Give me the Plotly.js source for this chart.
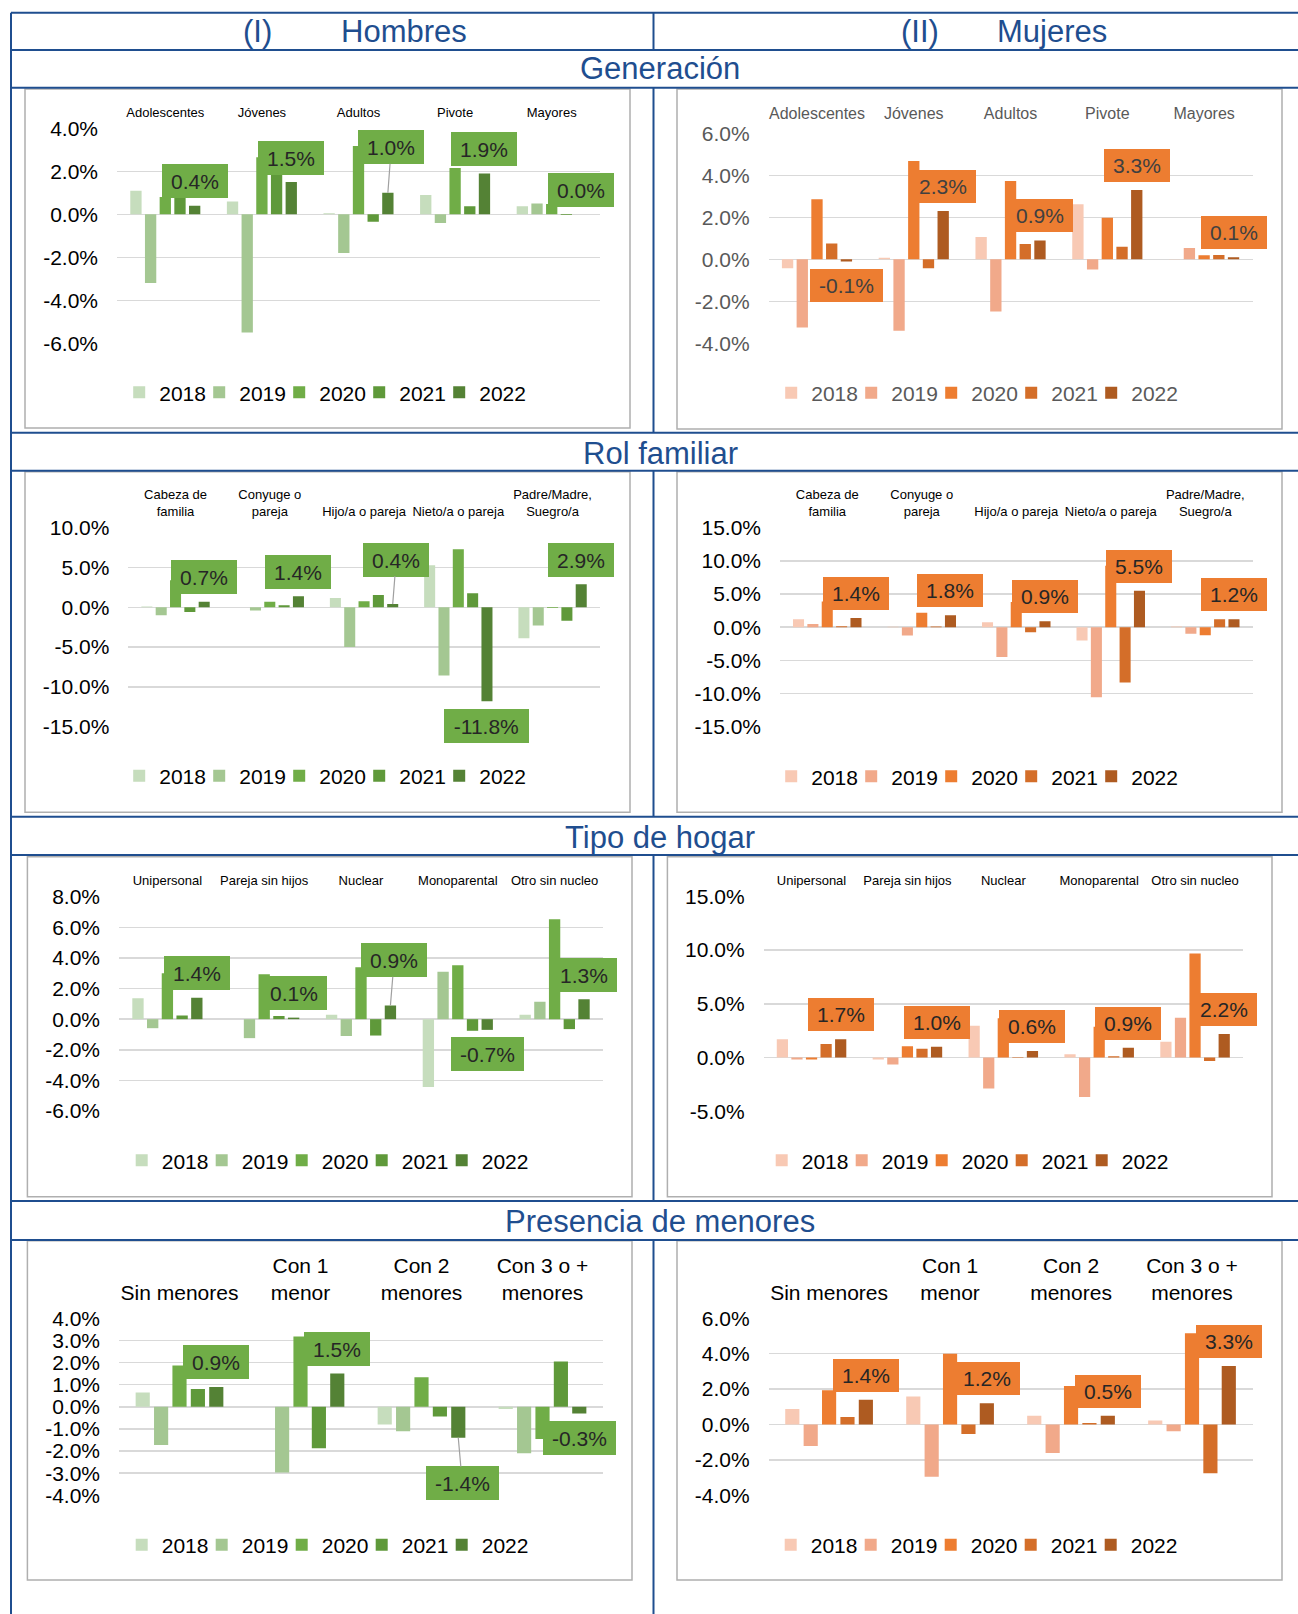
<!DOCTYPE html>
<html><head><meta charset="utf-8">
<script src="https://cdn.plot.ly/plotly-3.0.1.min.js"></script>
<style>html,body{margin:0;padding:0;background:#fff;}#chart{width:1298px;height:1614px;}</style>
</head><body><div id="chart"></div>
<script>
// ---------------- DATA (values in %) ----------------
const years = ['2018', '2019', '2020', '2021', '2022'];

const genCats = ['Adolescentes', 'Jóvenes', 'Adultos', 'Pivote', 'Mayores'];
const rolCats = ['Cabeza de familia', 'Conyuge o pareja', 'Hijo/a o pareja', 'Nieto/a o pareja', 'Padre/Madre, Suegro/a'];
const rolTicks = ['Cabeza de<br>familia', 'Conyuge o<br>pareja', 'Hijo/a o pareja', 'Nieto/a o pareja', 'Padre/Madre,<br>Suegro/a'];
const tipoCats = ['Unipersonal', 'Pareja sin hijos', 'Nuclear', 'Monoparental', 'Otro sin nucleo'];
const menCats = ['Sin menores', 'Con 1 menor', 'Con 2 menores', 'Con 3 o + menores'];
const menTicks = ['Sin menores', 'Con 1<br>menor', 'Con 2<br>menores', 'Con 3 o +<br>menores'];

// rows: 2018, 2019, 2020, 2021, 2022
const genHombres = [
  [1.1, 0.6, 0.05, 0.9, 0.37],
  [-3.2, -5.5, -1.8, -0.4, 0.5],
  [0.8, 2.65, 3.18, 2.15, 0.48],
  [0.8, 2.0, -0.35, 0.37, -0.03],
  [0.4, 1.5, 1.0, 1.9, 0.0]
];
const genMujeres = [
  [-0.43, 0.07, 1.06, 2.62, 0.02],
  [-3.25, -3.4, -2.49, -0.49, 0.54],
  [2.86, 4.68, 3.73, 1.98, 0.19],
  [0.75, -0.43, 0.73, 0.6, 0.2],
  [-0.1, 2.3, 0.9, 3.3, 0.1]
];
const rolHombres = [
  [0.1, 0.0, 1.17, 5.27, -3.9],
  [-1.0, -0.4, -5.0, -8.58, -2.3],
  [3.4, 0.7, 0.75, 7.28, -0.1],
  [-0.6, 0.25, 1.55, 1.76, -1.7],
  [0.7, 1.4, 0.4, -11.8, 2.9]
];
const rolMujeres = [
  [1.2, 0.05, 0.75, -2.0, 0.1],
  [0.5, -1.26, -4.5, -10.55, -1.0],
  [3.87, 2.16, 3.8, 9.25, -1.2],
  [0.15, 0.1, -0.75, -8.34, 1.2],
  [1.4, 1.8, 0.9, 5.5, 1.2]
];
const tipoHombres = [
  [1.37, 0.0, 0.28, -4.43, 0.28],
  [-0.59, -1.24, -1.1, 3.09, 1.13],
  [3.0, 2.93, 3.39, 3.52, 6.52],
  [0.24, 0.2, -1.07, -0.76, -0.65],
  [1.4, 0.1, 0.9, -0.7, 1.3]
];
const tipoMujeres = [
  [1.71, -0.19, 2.95, 0.31, 1.46],
  [-0.19, -0.65, -2.89, -3.66, 3.7],
  [-0.19, 1.06, 3.66, 2.86, 9.69],
  [1.27, 0.81, 0.05, 0.12, -0.31],
  [1.7, 1.0, 0.6, 0.9, 2.2]
];
const menHombres = [
  [0.65, 0.0, -0.8, -0.1],
  [-1.73, -2.97, -1.1, -2.1],
  [1.87, 3.18, 1.33, -1.45],
  [0.81, -1.87, -0.44, 2.05],
  [0.9, 1.5, -1.4, -0.3]
];
const menMujeres = [
  [0.88, 1.58, 0.49, 0.23],
  [-1.22, -2.95, -1.61, -0.38],
  [1.93, 4.0, 2.18, 5.16],
  [0.43, -0.53, 0.08, -2.76],
  [1.4, 1.2, 0.5, 3.3]
];

// ---------------- STYLE / LAYOUT ----------------
const W = 1298, H = 1614;
const FONT = 'Arial, "Liberation Sans", sans-serif';
const BLUE = '#1F4E8F';
const greens = ['#C6DDBD', '#A4C792', '#70AD47', '#5F993A', '#548235'];
const oranges = ['#F8C9B4', '#F1A98A', '#ED7D31', '#D46E29', '#AE5B21'];
const BARGAP = 0.24, BARGROUPGAP = 0.23;

const panels = [
  {cats: genCats, ticks: genCats, vals: genHombres, colors: greens, fill: '#70AD47', txt: '#000000', ctxt: '#262626',
   box: [25, 89, 630, 428], plot: [117, 128.3, 600, 343.3], range: [-6, 4], dtick: 2, catFont: 13, catStand: 8,
   legX: 141, legY: 392.7, boxH: 34, leader: {2: [3.4, -45.6]}},
  {cats: genCats, ticks: genCats, vals: genMujeres, colors: oranges, fill: '#ED7D31', txt: '#595959', ctxt: '#404040',
   box: [677, 89, 1282, 429], plot: [768.6, 133.3, 1252.5, 343.3], range: [-4, 6], dtick: 2, catFont: 16, catStand: 10,
   legX: 793, legY: 393, boxH: 32.5, leader: {}},
  {cats: rolCats, ticks: rolTicks, vals: rolHombres, colors: greens, fill: '#70AD47', txt: '#000000', ctxt: '#262626',
   box: [25, 471.7, 630, 812.3], plot: [128.4, 527.7, 599.7, 726.7], range: [-15, 10], dtick: 5, catFont: 13, catStand: 8,
   legX: 141, legY: 776, boxH: 34, leader: {2: [3.5, -44.5]}},
  {cats: rolCats, ticks: rolTicks, vals: rolMujeres, colors: oranges, fill: '#ED7D31', txt: '#000000', ctxt: '#262626',
   box: [677, 471.7, 1282, 812.3], plot: [780, 527.7, 1252.5, 726.7], range: [-15, 15], dtick: 5, catFont: 13, catStand: 8,
   legX: 793, legY: 776.7, boxH: 32.5, leader: {}},
  {cats: tipoCats, ticks: tipoCats, vals: tipoHombres, colors: greens, fill: '#70AD47', txt: '#000000', ctxt: '#262626',
   box: [27.4, 856.7, 632, 1196.7], plot: [119, 896.7, 603, 1111], range: [-6, 8], dtick: 2, catFont: 13, catStand: 8,
   legX: 143.5, legY: 1160.7, boxH: 34, leader: {2: [3.7, -45.2]}},
  {cats: tipoCats, ticks: tipoCats, vals: tipoMujeres, colors: oranges, fill: '#ED7D31', txt: '#000000', ctxt: '#262626',
   box: [667.4, 856.7, 1272, 1196.7], plot: [763.6, 896.3, 1243, 1111.3], range: [-5, 15], dtick: 5, catFont: 13, catStand: 8,
   legX: 783.5, legY: 1160.7, boxH: 32.5, leader: {}},
  {cats: menCats, ticks: menTicks, vals: menHombres, colors: greens, fill: '#70AD47', txt: '#000000', ctxt: '#262626',
   box: [27.4, 1240.7, 632, 1580], plot: [119, 1318.3, 603, 1495.3], range: [-4, 4], dtick: 1, catFont: 21, catStand: 13,
   legX: 143.5, legY: 1545, boxH: 34, leader: {2: [4, 45.5]}},
  {cats: menCats, ticks: menTicks, vals: menMujeres, colors: oranges, fill: '#ED7D31', txt: '#000000', ctxt: '#262626',
   box: [677, 1240.7, 1282, 1580], plot: [768.6, 1318.3, 1252.5, 1495.3], range: [-4, 6], dtick: 2, catFont: 21, catStand: 13,
   legX: 792.5, legY: 1545, boxH: 32.5, leader: {}}
];

const charW = {'-': 0.333, '.': 0.278, '%': 0.889};
function textW(s, size) { let w = 0; for (const c of s) w += (charW[c] !== undefined ? charW[c] : 0.556); return w * size; }

const traces = [];
const layout = {
  width: W, height: H, margin: {l: 0, r: 0, t: 0, b: 0},
  paper_bgcolor: '#ffffff', plot_bgcolor: 'rgba(0,0,0,0)',
  font: {family: FONT, color: '#000000'},
  barmode: 'group', bargap: BARGAP, bargroupgap: BARGROUPGAP,
  showlegend: true, hovermode: false,
  annotations: [], shapes: []
};

const off2022 = 2 * (1 - BARGAP) / years.length;

panels.forEach((p, k) => {
  const n = k + 1, s = n === 1 ? '' : String(n);
  const xa = 'x' + s, ya = 'y' + s, lg = 'legend' + s;
  years.forEach((yr, j) => {
    traces.push({
      type: 'bar', x: p.cats, y: p.vals[j], name: yr,
      xaxis: xa, yaxis: ya, legend: lg,
      marker: {color: p.colors[j], line: {width: 0}}, hoverinfo: 'skip'
    });
  });
  // blank spacer legend entry (nothing drawn) so the last legend label is not clipped
  traces.push({type: 'scatter', mode: 'markers', x: [p.cats[0]], y: [null], name: ' ', xaxis: xa, yaxis: ya,
    legend: lg, showlegend: true, marker: {color: 'rgba(0,0,0,0)', size: 1, line: {width: 0, color: 'rgba(0,0,0,0)'}},
    hoverinfo: 'skip'});
  layout['xaxis' + s] = {
    domain: [p.plot[0] / W, p.plot[2] / W], anchor: ya, type: 'category', side: 'top',
    categoryorder: 'array', categoryarray: p.cats, range: [-0.5, p.cats.length - 0.5],
    tickmode: 'array', tickvals: p.cats, ticktext: p.ticks, tickangle: 0,
    ticks: '', showgrid: false, zeroline: false, showline: false,
    tickfont: {family: FONT, size: p.catFont, color: p.txt}, ticklabelstandoff: p.catStand, fixedrange: true
  };
  const tv = [];
  for (let v = p.range[0]; v <= p.range[1] + 1e-9; v += p.dtick) tv.push(Math.round(v * 1000) / 1000);
  layout['yaxis' + s] = {
    domain: [1 - p.plot[3] / H, 1 - p.plot[1] / H], anchor: xa, range: p.range,
    tickmode: 'array', tickvals: tv, ticktext: tv.map(v => (v === 0 ? 0 : v).toFixed(1) + '%'),
    ticks: '', showgrid: true, gridcolor: '#D9D9D9', gridwidth: 1.5, zeroline: false, showline: false,
    tickfont: {family: FONT, size: 21, color: p.txt}, ticklabelstandoff: 18, fixedrange: true
  };
  layout[lg] = {
    orientation: 'h', x: (p.legX - 21.8) / W, xanchor: 'left', y: 1 - p.legY / H, yanchor: 'middle',
    font: {family: FONT, size: 21, color: p.txt}, bgcolor: 'rgba(0,0,0,0)', borderwidth: 0,
    itemclick: false, itemdoubleclick: false, entrywidth: 35, entrywidthmode: 'pixels', traceorder: 'normal'
  };
  // chart area border
  layout.shapes.push({type: 'rect', xref: 'paper', yref: 'paper', layer: 'below',
    x0: p.box[0] / W, x1: p.box[2] / W, y0: 1 - p.box[3] / H, y1: 1 - p.box[1] / H,
    line: {color: '#AFAFAF', width: 1.5}, fillcolor: 'rgba(0,0,0,0)'});
  // 2022 callouts
  p.vals[4].forEach((v, i) => {
    const lab = v.toFixed(1) + '%';
    const ov = p.leader[i];
    layout.annotations.push({
      xref: xa, yref: ya, x: i + off2022, y: v, text: lab,
      showarrow: true, arrowhead: 0, arrowwidth: 1.2, arrowcolor: ov ? '#A0A0A0' : 'rgba(0,0,0,0)',
      axref: 'pixel', ayref: 'pixel', ax: ov ? ov[0] : 0, ay: ov ? ov[1] : (v < 0 ? 24.5 : -24.5),
      standoff: 0, startstandoff: 0,
      bgcolor: p.fill, bordercolor: p.fill, borderwidth: 1, borderpad: 0,
      width: textW(lab, 21) + 16, height: p.boxH - 2,
      font: {family: FONT, size: 21, color: p.ctxt}
    });
  });
});

// frame lines
const hLines = [12.7, 50, 87.7, 432.7, 470.7, 816.7, 855, 1201, 1240];
hLines.forEach(y => layout.shapes.push({type: 'line', xref: 'paper', yref: 'paper',
  x0: 11 / W, x1: 1, y0: 1 - y / H, y1: 1 - y / H, line: {color: BLUE, width: 2}}));
layout.shapes.push({type: 'line', xref: 'paper', yref: 'paper', x0: 11 / W, x1: 11 / W,
  y0: 1 - 12.7 / H, y1: 0, line: {color: BLUE, width: 2}});
[[12.7, 50], [87.7, 432.7], [470.7, 816.7], [855, 1201], [1240, 1614]].forEach(seg =>
  layout.shapes.push({type: 'line', xref: 'paper', yref: 'paper', x0: 653.5 / W, x1: 653.5 / W,
    y0: 1 - seg[0] / H, y1: 1 - seg[1] / H, line: {color: BLUE, width: 2}}));

// titles
const titles = [
  ['(I)', 257.5, 31.7], ['Hombres', 403.6, 31.7], ['(II)', 919.5, 31.7], ['Mujeres', 1052.4, 31.7],
  ['Generación', 660, 68.5], ['Rol familiar', 660, 453], ['Tipo de hogar', 660, 837.5], ['Presencia de menores', 660, 1221]
];
titles.forEach(t => layout.annotations.push({xref: 'paper', yref: 'paper', x: t[1] / W, y: 1 - t[2] / H,
  xanchor: 'center', yanchor: 'middle', showarrow: false, text: t[0],
  font: {family: FONT, size: 31, color: BLUE}}));

Plotly.newPlot('chart', traces, layout, {staticPlot: true, displayModeBar: false});
</script>
</body></html>
